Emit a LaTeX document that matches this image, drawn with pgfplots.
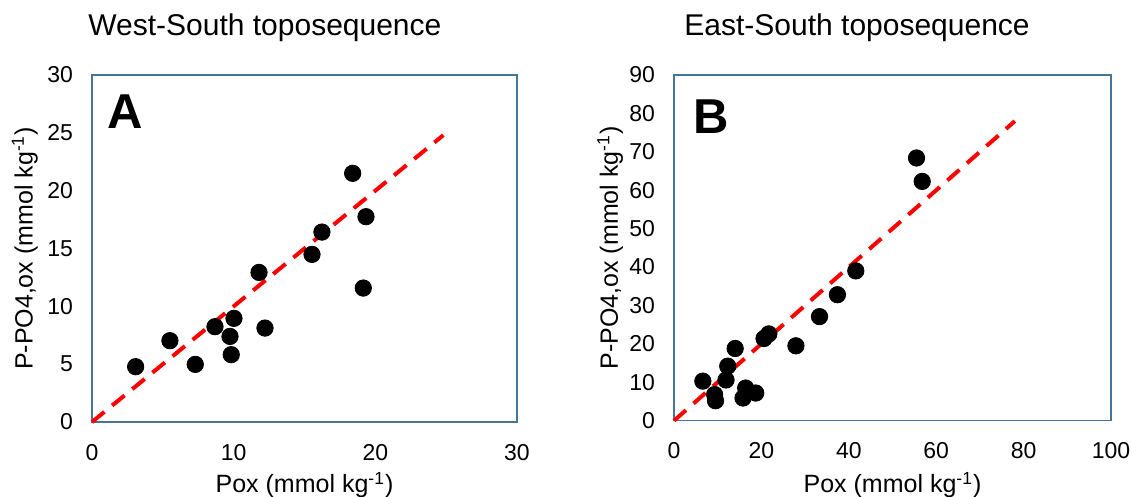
\documentclass[border=0pt]{standalone}
\usepackage{fontspec}
\setmainfont{Liberation Sans}
\usepackage{pgfplots}
\pgfplotsset{compat=1.18}
\definecolor{axisblue}{RGB}{70,118,150}
\definecolor{fitred}{RGB}{255,0,0}

\pgfplotsset{
  toposet/.style={
    scale only axis,
    axis line style={draw=axisblue, line width=0.75pt},
    major tick length=0pt,
    tick style={draw=none},
    /pgf/number format/assume math mode=true,
    tick label style={font=\fontsize{11.5}{13}\selectfont},
    label style={font=\fontsize{12.5}{14}\selectfont},
    xticklabel style={yshift=-7.5pt},
    yticklabel style={xshift=-6pt},
    xlabel={Pox (mmol kg\textsuperscript{-1})},
    ylabel={P-PO4,ox (mmol kg\textsuperscript{-1})},
    clip=false,
  },
  dots/.style={only marks, mark=*, mark size=4.1pt, black, mark options={fill=black, draw=black}},
  fitline/.style={no marks, fitred, line width=2pt, dash pattern=on 8pt off 5pt},
}

\begin{document}
\begin{tikzpicture}
\path[use as bounding box] (0pt,0pt) rectangle (566pt,248.5pt);

% A: West-South
\begin{axis}[toposet,
  at={(46pt,37.5pt)}, anchor=south west,
  width=212.5pt, height=173.5pt,
  xmin=0, xmax=30, ymin=0, ymax=30,
  xtick={0,10,20,30}, ytick={0,5,10,15,20,25,30},
  xlabel style={at={(axis description cs:0.5,-0.1816)}, anchor=center},
  ylabel style={at={(axis description cs:-0.158,0.5)}, anchor=center},
]
\addplot[fitline] coordinates {(0,0) (24.8,24.8)};
\addplot[dots] coordinates {
(3.08,4.78) (5.5,7.03) (7.29,4.98) (8.68,8.24) (10.02,8.96)
(9.74,7.4) (9.83,5.82) (12.21,8.12) (11.79,12.93) (15.53,14.49)
(16.23,16.42) (18.4,21.5) (19.34,17.75) (19.15,11.58)
};
\node[anchor=base west, inner sep=0pt, font=\fontsize{15}{17}\selectfont] at (axis description cs:-0.0094,1.115) {West-South toposequence};
\node[anchor=base west, font=\fontsize{24.5}{28}\selectfont\bfseries, inner sep=0pt] at (axis description cs:0.035,0.847) {A};
\end{axis}

% B: East-South
\begin{axis}[toposet,
  at={(337pt,38.15pt)}, anchor=south west,
  width=218.5pt, height=172.85pt,
  xmin=0, xmax=100, ymin=0, ymax=90,
  xtick={0,20,40,60,80,100}, ytick={0,10,20,30,40,50,60,70,80,90},
  xlabel style={at={(axis description cs:0.5,-0.186)}, anchor=center},
  ylabel style={at={(axis description cs:-0.146,0.5)}, anchor=center},
]
\addplot[fitline] coordinates {(0,0) (78,78)};
\addplot[dots] coordinates {
(55.5,68.4) (56.8,62.3) (41.6,39.0) (37.4,32.8) (33.3,27.1)
(27.9,19.5) (21.7,22.6) (20.6,21.4) (14.0,18.8) (12.3,14.2)
(11.9,10.6) (6.6,10.3) (9.3,6.8) (9.5,5.2) (16.4,8.5)
(18.7,7.2) (15.8,5.9)
};
\node[anchor=base west, inner sep=0pt, font=\fontsize{15}{17}\selectfont] at (axis description cs:0.023,1.1157) {East-South toposequence};
\node[anchor=base west, font=\fontsize{24.5}{28}\selectfont\bfseries, inner sep=0pt] at (axis description cs:0.0435,0.832) {B};
\end{axis}
\end{tikzpicture}
\end{document}
